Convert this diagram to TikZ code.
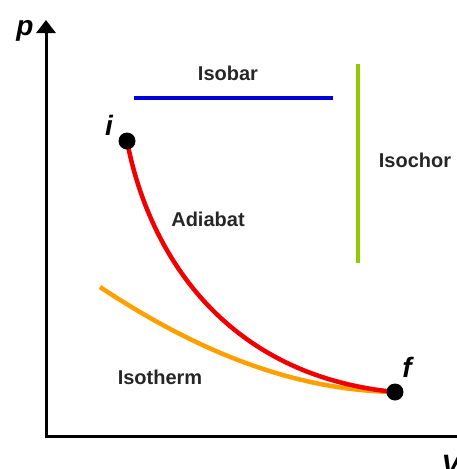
\documentclass[tikz,border=0pt]{standalone}
\usepackage{fontspec}
\setmainfont{Liberation Sans}
\usetikzlibrary{arrows.meta}
\begin{document}
\begin{tikzpicture}[x=1pt,y=-1pt,
  lbl/.style={font=\fontsize{20}{22}\selectfont\bfseries, text=black!85, inner sep=0pt},
  ax/.style={font=\fontsize{28}{30}\selectfont\bfseries\itshape, inner sep=0pt},
  axis/.style={line width=3pt, black},
  curve/.style={line width=4.5pt},
  pt/.style={circle, fill=black, minimum size=17pt, inner sep=0pt}]
\useasboundingbox (0,0) rectangle (457,469);
% axes
\coordinate (O) at (46,436);
\coordinate (ytop) at (46,20);
\coordinate (xend) at (470,436);
\draw[axis, -{Triangle[length=13pt,width=19pt]}] (O) -- (ytop);
\draw[axis] (44.5,436) -- (xend);
\node[ax] (plab) at (25,31) {p};
\node[ax] (vlab) at (451,465) {V};
% isobar
\coordinate (b1) at (134,98);
\coordinate (b2) at (333,98);
\draw[curve, color={rgb,255:red,0;green,0;blue,220}] (b1) -- (b2);
\node[lbl] (isobar) at (228,73) {Isobar};
% isochor
\coordinate (c1) at (358,64);
\coordinate (c2) at (358,263);
\draw[curve, color={rgb,255:red,150;green,200;blue,0}] (c1) -- (c2);
\node[lbl] (isochor) at (415,160) {Isochor};
% points
\coordinate (i) at (127,141);
\coordinate (f) at (395,392);
\coordinate (t0) at (100,287);
% isotherm
\draw[curve, color={rgb,255:red,255;green,160;blue,0}] (t0) .. controls (180,340) and (280,390) .. (f);
% adiabat
\draw[curve, color={rgb,255:red,240;green,0;blue,0}] (i) .. controls (150,260) and (230,376) .. (f);
\node[pt] (ip) at (i) {};
\node[pt] (fp) at (f) {};
\node[ax] (ilab) at (109,125) {i};
\node[ax] (flab) at (407,367) {f};
\node[lbl] (adiabat) at (208,219) {Adiabat};
\node[lbl] (isotherm) at (160,377) {Isotherm};
\end{tikzpicture}
\end{document}
